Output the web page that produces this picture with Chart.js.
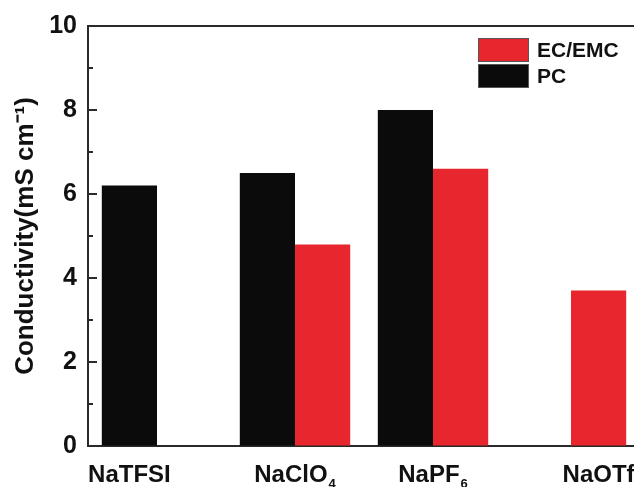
<!DOCTYPE html>
<html>
<head>
<meta charset="utf-8">
<script src="https://cdn.jsdelivr.net/npm/chart.js@4/dist/chart.umd.min.js"></script>
<style>
  html, body { margin: 0; padding: 0; background: #fff; overflow: hidden; width: 634px; height: 487px; }
  #wrap { position: absolute; left: 0; top: 0; width: 650px; height: 487px; }
</style>
</head>
<body>
<div id="wrap"><canvas id="c"></canvas></div>
<script>
// ---- data ----
const categories = ['NaTFSI', 'NaClO4', 'NaPF6', 'NaOTf'];
const categoryMain = ['NaTFSI', 'NaClO', 'NaPF', 'NaOTf'];
const categorySub = ['', '4', '6', ''];
const pcValues = [6.2, 6.5, 8.0, null];
const ecEmcValues = [null, 4.8, 6.6, 3.7];
const yTicks = [0, 2, 4, 6, 8, 10];
const seriesNames = ['PC', 'EC/EMC'];
const yTitle = 'Conductivity(mS cm⁻¹)';

const FONT = '"Liberation Sans", Arial, sans-serif';
const RED = '#e8262d';
const BLACK = '#0b0b0b';
const AXIS = '#2a2a2a';

const decor = {
  id: 'decor',
  afterDraw(chart) {
    const ctx = chart.ctx;
    const a = chart.chartArea;
    const y = chart.scales.y;
    ctx.save();
    // frame top/right
    ctx.strokeStyle = AXIS;
    ctx.lineWidth = 2;
    ctx.beginPath();
    ctx.moveTo(a.left - 1, a.top);
    ctx.lineTo(a.right, a.top);
    ctx.lineTo(a.right, a.bottom);
    ctx.stroke();
    // inward ticks
    y.ticks.forEach(t => {
      const py = Math.round(y.getPixelForValue(t.value));
      const len = (t.value % 2 === 0) ? 9 : 5;
      ctx.beginPath();
      ctx.moveTo(a.left, py);
      ctx.lineTo(a.left + len, py);
      ctx.stroke();
    });
    // x category labels centered under existing bars
    ctx.fillStyle = '#111';
    ctx.textBaseline = 'alphabetic';
    categories.forEach((c, i) => {
      let xs = [];
      chart.data.datasets.forEach((ds, di) => {
        if (ds.data[i] !== null) xs.push(chart.getDatasetMeta(di).data[i].x);
      });
      const cx = xs.reduce((s, v) => s + v, 0) / xs.length;
      ctx.font = 'bold 24px ' + FONT;
      const wMain = ctx.measureText(categoryMain[i]).width;
      ctx.font = 'bold 13px ' + FONT;
      const wSub = categorySub[i] ? ctx.measureText(categorySub[i]).width + 1 : 0;
      const x0 = cx - (wMain + wSub) / 2;
      ctx.textAlign = 'left';
      ctx.font = 'bold 24px ' + FONT;
      ctx.fillText(categoryMain[i], x0, 482);
      if (categorySub[i]) {
        ctx.font = 'bold 13px ' + FONT;
        ctx.fillText(categorySub[i], x0 + wMain + 1, 488);
      }
    });
    // legend (reverse order)
    const items = chart.data.datasets.slice().reverse();
    items.forEach((ds, k) => {
      const by = 38 + k * 26;
      ctx.fillStyle = ds.backgroundColor;
      ctx.fillRect(478, by, 51, 24);
      ctx.strokeStyle = '#555';
      ctx.lineWidth = 1;
      ctx.strokeRect(478.5, by + 0.5, 50, 23);
      ctx.fillStyle = '#111';
      ctx.font = 'bold 21px ' + FONT;
      ctx.textAlign = 'left';
      ctx.textBaseline = 'middle';
      ctx.fillText(ds.label, 537, by + 13);
    });
    ctx.restore();
  }
};

new Chart(document.getElementById('c'), {
  type: 'bar',
  data: {
    labels: categories,
    datasets: [
      { label: seriesNames[0], data: pcValues, backgroundColor: BLACK, borderWidth: 0 },
      { label: seriesNames[1], data: ecEmcValues, backgroundColor: RED, borderWidth: 0 }
    ]
  },
  options: {
    responsive: true,
    maintainAspectRatio: false,
    animation: false,
    devicePixelRatio: 1,
    layout: { padding: { top: 25, right: 10, left: 0, bottom: 0 } },
    datasets: { bar: { categoryPercentage: 0.8, barPercentage: 1.0 } },
    plugins: { legend: { display: false }, tooltip: { enabled: false } },
    scales: {
      x: {
        offset: true,
        ticks: { display: false },
        grid: { display: true, drawOnChartArea: false, drawTicks: false },
        border: { display: true, width: 2, color: AXIS },
        afterFit(s) { s.height = 41; }
      },
      y: {
        min: 0, max: 10,
        afterBuildTicks(s) {
          const t = [];
          for (let v = yTicks[0]; v <= yTicks[yTicks.length - 1]; v++) t.push({ value: v });
          s.ticks = t;
        },
        ticks: {
          padding: 11,
          color: '#111',
          font: { family: FONT, size: 25, weight: 'bold' },
          callback: (v) => yTicks.includes(v) ? String(v) : ''
        },
        grid: { display: true, drawOnChartArea: false, drawTicks: false },
        border: { display: true, width: 2, color: AXIS },
        title: {
          display: true,
          text: yTitle,
          color: '#111',
          font: { family: FONT, size: 26, weight: 'bold', lineHeight: 1.2 },
          padding: { top: 10, bottom: 0 }
        },
        afterFit(s) { s.width = 88; }
      }
    }
  },
  plugins: [decor]
});
</script>
</body>
</html>
